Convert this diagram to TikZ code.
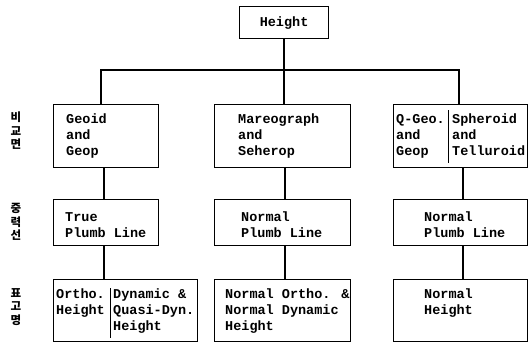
\documentclass[tikz,border=0pt]{standalone}
\usepackage{fontspec}
\newfontfamily\monofam{Liberation Mono}
\newfontfamily\krfam{Noto Sans CJK KR Black}
\begin{document}
\begin{tikzpicture}[x=1pt,y=1pt,
  box/.style={draw, line width=1.1pt, inner sep=0pt, anchor=north west},
  txt/.style={anchor=north west, inner sep=0pt, align=left,
    font=\monofam\bfseries\fontsize{13.5}{16}\selectfont},
  kr/.style={inner sep=0pt, align=center,
    font=\krfam\fontsize{11.5}{13.5}\selectfont},
  conn/.style={line width=1.8pt},
  divider/.style={line width=1pt}]
\useasboundingbox (0,0) rectangle (529,-345);

% top box
\node[box, minimum width=89, minimum height=32] (top) at (239,-6) {};
\node[anchor=center, inner sep=0pt, font=\monofam\bfseries\fontsize{13.5}{16}\selectfont] (toptxt) at (top.center) {Height};

% row 1
\node[box, minimum width=105, minimum height=63] (r1a) at (53,-104) {};
\node[box, minimum width=136, minimum height=63] (r1b) at (214,-104) {};
\node[box, minimum width=134, minimum height=63] (r1c) at (393,-104) {};
\node[txt] (t1a) at (66,-114) {Geoid\\and\\Geop};
\node[txt] (t1b) at (238,-114) {Mareograph\\and\\Seherop};
\node[txt] (t1c) at (396,-114) {Q-Geo.\\and\\Geop};
\node[txt] (t1d) at (452,-114) {Spheroid\\and\\Telluroid};
\draw[divider] ([xshift=55.5pt,yshift=-6pt]r1c.north west) -- ([xshift=55.5pt,yshift=5pt]r1c.south west);

% row 2
\node[box, minimum width=105, minimum height=46] (r2a) at (53,-199) {};
\node[box, minimum width=136, minimum height=46] (r2b) at (214,-199) {};
\node[box, minimum width=134, minimum height=46] (r2c) at (393,-199) {};
\node[txt] (t2a) at (65,-212) {True\\Plumb Line};
\node[txt] (t2b) at (241,-212) {Normal\\Plumb Line};
\node[txt] (t2c) at (424,-212) {Normal\\Plumb Line};

% row 3
\node[box, minimum width=144, minimum height=62] (r3a) at (53,-279) {};
\node[box, minimum width=136, minimum height=62] (r3b) at (214,-279) {};
\node[box, minimum width=134, minimum height=62] (r3c) at (393,-279) {};
\node[txt] (t3a) at (56,-289) {Ortho.\\Height};
\node[txt] (t3b) at (113,-289) {Dynamic \&\\Quasi-Dyn.\\Height};
\node[txt] (t3c) at (225,-289) {Normal Ortho. \&\\Normal Dynamic\\Height};
\node[txt] (t3d) at (424,-289) {Normal\\Height};
\draw[divider] ([xshift=57.5pt,yshift=-9pt]r3a.north west) -- ([xshift=57.5pt,yshift=4pt]r3a.south west);

% Korean side labels
\node[kr] (k1) at (16,-131) {비\\교\\면};
\node[kr] (k2) at (16,-222) {중\\력\\선};
\node[kr] (k3) at (16,-307) {표\\고\\명};

% connectors
\draw[conn] (top.south) -- (top.south |- r1b.north);
\draw[conn] ([xshift=-5pt]r1a.north) -- ++(0,34) -| ([xshift=-1.5pt]r1c.north);
\draw[conn] ([xshift=-2pt]r1a.south) -- ([xshift=-2pt]r2a.north);
\draw[conn] ([xshift=2.5pt]r1b.south) -- ([xshift=2.5pt]r2b.north);
\draw[conn] ([xshift=2.5pt]r1c.south) -- ([xshift=2.5pt]r2c.north);
\draw[conn] ([xshift=-2pt]r2a.south) -- ([xshift=-2pt]r2a.south |- r3a.north);
\draw[conn] ([xshift=2.5pt]r2b.south) -- ([xshift=2.5pt]r3b.north);
\draw[conn] ([xshift=2.5pt]r2c.south) -- ([xshift=2.5pt]r3c.north);
\end{tikzpicture}
\end{document}
